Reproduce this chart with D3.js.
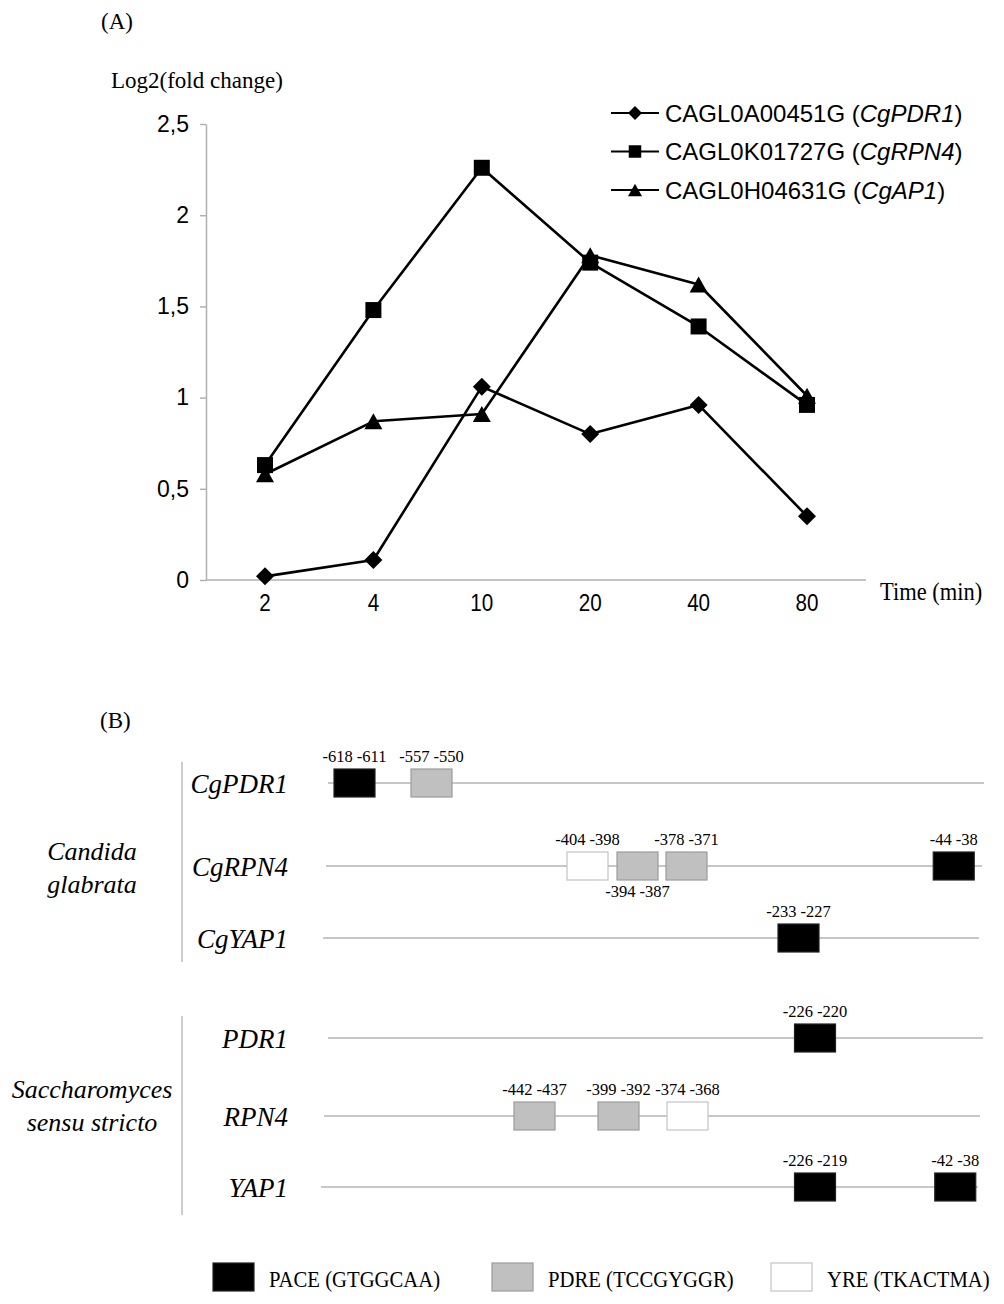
<!DOCTYPE html>
<html>
<head>
<meta charset="utf-8">
<script src="https://cdn.jsdelivr.net/npm/d3@7"></script>
<style>
  html, body { margin: 0; padding: 0; background: #fff; }
  svg { display: block; }
</style>
</head>
<body>
<svg id="chart" width="1004" height="1304"></svg>
<script>
// ---------------- DATA ----------------
// Panel A: time course (Log2 fold change)
const timePoints = ["2", "4", "10", "20", "40", "80"];
const seriesIds = ["CAGL0A00451G", "CAGL0K01727G", "CAGL0H04631G"];
const seriesGenes = ["CgPDR1", "CgRPN4", "CgAP1"];
const seriesMarkers = ["diamond", "square", "triangle"];
const valuesCgPDR1 = [0.02, 0.11, 1.06, 0.80, 0.96, 0.35];
const valuesCgRPN4 = [0.63, 1.48, 2.26, 1.74, 1.39, 0.96];
const valuesCgAP1  = [0.58, 0.87, 0.91, 1.78, 1.62, 1.01];
const yTickValues = [0, 0.5, 1, 1.5, 2, 2.5];

// Panel B: promoter motifs (bp upstream of ATG)
const geneNames = ["CgPDR1", "CgRPN4", "CgYAP1", "PDR1", "RPN4", "YAP1"];
const speciesNames = [["Candida", "glabrata"], ["Saccharomyces", "sensu stricto"]];
const motifGene  = ["CgPDR1", "CgPDR1", "CgRPN4", "CgRPN4", "CgRPN4", "CgRPN4", "CgYAP1", "PDR1", "RPN4", "RPN4", "RPN4", "YAP1", "YAP1"];
const motifStart = [-618, -557, -404, -394, -378, -44, -233, -226, -442, -399, -374, -226, -42];
const motifEnd   = [-611, -550, -398, -387, -371, -38, -227, -220, -437, -392, -368, -219, -38];
const motifType  = ["PACE", "PDRE", "YRE", "PDRE", "PDRE", "PACE", "PACE", "PACE", "PDRE", "PDRE", "YRE", "PACE", "PACE"];
const motifTypes = ["PACE", "PDRE", "YRE"];
const motifConsensus = ["GTGGCAA", "TCCGYGGR", "TKACTMA"];

// ---------------- LAYOUT / STYLE ----------------
const svg = d3.select("#chart");
const SERIF = "'Liberation Serif', 'Times New Roman', serif";
const SANS = "'Liberation Sans', Arial, sans-serif";
const AXIS_GRAY = "#b0b0b0";

// ===== Panel A =====
const gA = svg.append("g");
const x = d3.scalePoint().domain(timePoints).range([265, 807]);
const y = d3.scaleLinear().domain([0, 2.5]).range([580, 124]);
const commaFmt = d3.formatLocale({decimal: ",", thousands: ".", grouping: [3], currency: ["", ""]}).format("~g");

gA.append("text").attr("x", 101).attr("y", 29)
  .attr("font-family", SERIF).attr("font-size", 23).text("(A)");
gA.append("text").attr("x", 111).attr("y", 88)
  .attr("font-family", SERIF).attr("font-size", 23).text("Log2(fold change)");

// y axis
const yAxis = gA.append("g").attr("transform", "translate(206,0)")
  .call(d3.axisLeft(y).tickValues(yTickValues).tickSize(6).tickSizeOuter(0)
        .tickPadding(11).tickFormat(commaFmt));
yAxis.select(".domain").attr("stroke", AXIS_GRAY).attr("stroke-width", 1.5);
yAxis.selectAll(".tick line").attr("stroke", AXIS_GRAY).attr("stroke-width", 1.5);
yAxis.selectAll(".tick text").attr("font-family", SANS).attr("font-size", 23).attr("fill", "#000");

// x axis line
gA.append("line").attr("x1", 206).attr("x2", 866).attr("y1", y(0)).attr("y2", y(0))
  .attr("stroke", AXIS_GRAY).attr("stroke-width", 1.5);
gA.selectAll("text.xt").data(timePoints).enter().append("text").attr("class", "xt")
  .attr("transform", d => `translate(${x(d)},611) scale(0.86,1)`)
  .attr("text-anchor", "middle").attr("font-family", SANS).attr("font-size", 24).text(d => d);
gA.append("text").attr("transform", "translate(880,600) scale(0.9,1)")
  .attr("font-family", SERIF).attr("font-size", 25).text("Time (min)");

function markerPath(type, cx, cy, s) {
  if (type === "diamond") {
    const r = 9 * s;
    return `M${cx},${cy - r}L${cx + r},${cy}L${cx},${cy + r}L${cx - r},${cy}Z`;
  }
  if (type === "square") {
    const h = 8 * s;
    return `M${cx - h},${cy - h}h${2 * h}v${2 * h}h${-2 * h}Z`;
  }
  const w = 9 * s, h = 8 * s;
  return `M${cx},${cy - h}L${cx + w},${cy + h}L${cx - w},${cy + h}Z`;
}

const seriesValues = [valuesCgPDR1, valuesCgRPN4, valuesCgAP1];
const line = d3.line().x((d, i) => x(timePoints[i])).y(d => y(d));
seriesValues.forEach((vals, si) => {
  gA.append("path").attr("d", line(vals)).attr("fill", "none")
    .attr("stroke", "#000").attr("stroke-width", 2.6).attr("stroke-linejoin", "round");
});
seriesValues.forEach((vals, si) => {
  gA.selectAll(null).data(vals).enter().append("path")
    .attr("d", (d, i) => markerPath(seriesMarkers[si], x(timePoints[i]), y(d), 1))
    .attr("fill", "#000");
});

// legend
const legY = d3.scalePoint().domain(seriesIds).range([113, 190]);
seriesIds.forEach((id, i) => {
  const ly = legY(id);
  gA.append("line").attr("x1", 611).attr("x2", 659).attr("y1", ly).attr("y2", ly)
    .attr("stroke", "#000").attr("stroke-width", 2);
  gA.append("path").attr("d", markerPath(seriesMarkers[i], 635, ly, 0.78)).attr("fill", "#000");
  const t = gA.append("text").attr("x", 665).attr("y", ly + 8.5)
    .attr("font-family", SANS).attr("font-size", 24);
  t.append("tspan").text(id + " (");
  t.append("tspan").attr("font-style", "italic").text(seriesGenes[i]);
  t.append("tspan").text(")");
});

// ===== Panel B =====
const gB = svg.append("g");
gB.append("text").attr("x", 100).attr("y", 728)
  .attr("font-family", SERIF).attr("font-size", 23).text("(B)");

// schematic (non-proportional) promoter coordinate scale
const bp = d3.scaleLinear()
  .domain([-618, -557, -442, -404, -399, -394, -378, -374, -233, -226, -43])
  .range([334, 411, 514, 567, 598, 617, 666, 667, 778, 794.5, 934]);
const rowY = d3.scaleOrdinal().domain(geneNames).range([783, 866, 938, 1038, 1116, 1187]);
const rowStart = d3.scaleOrdinal().domain(geneNames).range([328, 326, 323, 328, 324, 321]);
const rowEnd = d3.scaleOrdinal().domain(geneNames).range([984, 982, 979, 983, 980, 978]);
const BOX_W = 41, BOX_H = 28;
const typeFill = d3.scaleOrdinal().domain(motifTypes).range(["#000000", "#c0c0c0", "#ffffff"]);
const typeStroke = d3.scaleOrdinal().domain(motifTypes).range(["#222222", "#9c9c9c", "#c4c4c4"]);

// species brackets & names
const speciesLabelY = [[860, 893], [1098, 1131]];
const bracket = [[762, 962], [1016, 1215]];
speciesNames.forEach((nm, i) => {
  gB.append("line").attr("x1", 182).attr("x2", 182)
    .attr("y1", bracket[i][0]).attr("y2", bracket[i][1])
    .attr("stroke", "#bdbdbd").attr("stroke-width", 1.5);
  nm.forEach((w, j) => {
    gB.append("text").attr("x", 92).attr("y", speciesLabelY[i][j])
      .attr("text-anchor", "middle").attr("font-family", SERIF).attr("font-style", "italic")
      .attr("font-size", 26).text(w);
  });
});

// gene rows
geneNames.forEach(g => {
  const ry = rowY(g);
  gB.append("line").attr("x1", rowStart(g)).attr("x2", rowEnd(g)).attr("y1", ry).attr("y2", ry)
    .attr("stroke", "#b4b4b4").attr("stroke-width", 1.5);
  gB.append("text").attr("x", 288).attr("y", ry + 10)
    .attr("text-anchor", "end").attr("font-family", SERIF).attr("font-style", "italic")
    .attr("font-size", 27).text(g);
});

// motif boxes and labels
const motifs = motifGene.map((g, i) => ({gene: g, start: motifStart[i], end: motifEnd[i], type: motifType[i]}));
const lastAboveRight = {};
motifs.forEach(m => {
  const ry = rowY(m.gene);
  const x0 = bp(m.start);
  gB.append("rect").attr("x", x0).attr("y", ry - BOX_H / 2)
    .attr("width", BOX_W).attr("height", BOX_H)
    .attr("fill", typeFill(m.type)).attr("stroke", typeStroke(m.type)).attr("stroke-width", 1.2);
  const cx = x0 + BOX_W / 2;
  const halfLabel = 32;
  const prev = lastAboveRight[m.gene];
  const below = prev !== undefined && cx - halfLabel < prev;
  if (!below) lastAboveRight[m.gene] = cx + halfLabel;
  gB.append("text").attr("x", cx).attr("y", below ? ry + 31 : ry - 21)
    .attr("text-anchor", "middle").attr("font-family", SERIF).attr("font-size", 16.5)
    .text(`${m.start} ${m.end}`);
});

// bottom legend
const legX = d3.scalePoint().domain(motifTypes).range([213, 771]);
motifTypes.forEach((t, i) => {
  const lx = legX(t);
  gB.append("rect").attr("x", lx).attr("y", 1263).attr("width", 41).attr("height", 28)
    .attr("fill", typeFill(t)).attr("stroke", typeStroke(t)).attr("stroke-width", 1.2);
  gB.append("text").attr("transform", `translate(${lx + 56},1287) scale(0.9,1)`)
    .attr("font-family", SERIF).attr("font-size", 23)
    .text(`${t} (${motifConsensus[i]})`);
});
</script>
</body>
</html>
